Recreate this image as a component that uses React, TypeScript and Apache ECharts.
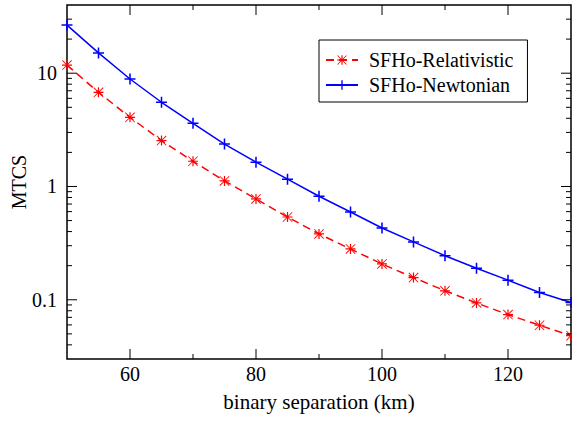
import React, { useEffect, useRef } from 'react';
import * as echarts from 'echarts';

// binary separation (km)
const separationKm = [50, 55, 60, 65, 70, 75, 80, 85, 90, 95, 100, 105, 110, 115, 120, 125, 130];
// MTCS values
const relativistic = [11.8, 6.78, 4.08, 2.54, 1.67, 1.12, 0.776, 0.538, 0.381, 0.281, 0.207, 0.157, 0.12, 0.0937, 0.074, 0.0596, 0.0482];
const newtonian = [26.6, 15.1, 8.89, 5.54, 3.61, 2.37, 1.64, 1.16, 0.82, 0.595, 0.43, 0.324, 0.245, 0.19, 0.149, 0.116, 0.0945];

const seriesNames = ['SFHo-Relativistic', 'SFHo-Newtonian'];

const xTickLabels = [60, 80, 100, 120];
const xMinorTickValues = [70, 90, 110];
const yTickValues = [0.1, 1, 10];
const yTickLabels = ['0.1', '1', '10'];
const yMinorTickValues = [
  0.04, 0.05, 0.06, 0.07, 0.08, 0.09,
  0.2, 0.3, 0.4, 0.5, 0.6, 0.7, 0.8, 0.9,
  2, 3, 4, 5, 6, 7, 8, 9,
  20, 30,
];

const FONT = 'Liberation Serif';

const PLUS_PATH = 'path://M4.3,0H5.7V4.3H10V5.7H5.7V10H4.3V5.7H0V4.3H4.3Z';
const ASTERISK_PATH =
  'path://M0,4.4H10V5.6H0Z M4.4,0H5.6V10H4.4Z M0.6,0L10,9.4L9.4,10L0,0.6Z M9.4,0L10,0.6L0.6,10L0,9.4Z';

export default function App() {
  const ref = useRef<HTMLDivElement>(null);

  useEffect(() => {
    if (!ref.current) return;
    const chart = echarts.init(ref.current, undefined, { renderer: 'svg' });

    const tickData: number[][] = [
      ...xTickLabels.map((v) => [v, 1, 0, 1]),
      ...xMinorTickValues.map((v) => [v, 1, 0, 0]),
      ...yTickValues.map((v) => [50, v, 1, 1]),
      ...yMinorTickValues.map((v) => [50, v, 1, 0]),
    ];

    const option: any = {
      animation: false,
      backgroundColor: '#ffffff',
      textStyle: { fontFamily: FONT, color: '#000' },
      grid: {
        left: 67,
        right: 1,
        top: 5,
        bottom: 63,
        show: true,
        borderColor: '#000',
        borderWidth: 1.5,
        backgroundColor: 'transparent',
        containLabel: false,
        outerBoundsMode: 'none',
      },
      legend: {
        orient: 'vertical',
        left: 319,
        top: 40,
        padding: [10, 14, 7, 6],
        itemGap: 5,
        itemWidth: 32,
        itemHeight: 12,
        borderColor: '#000',
        borderWidth: 1,
        backgroundColor: '#fff',
        data: seriesNames,
        textStyle: { fontFamily: FONT, fontSize: 20, color: '#000', padding: [0, 0, 0, 6] },
      },
      xAxis: {
        type: 'value',
        min: 50,
        max: 130,
        interval: 10,
        name: 'binary separation (km)',
        nameLocation: 'middle',
        nameGap: 32,
        nameMoveOverlap: false,
        nameTextStyle: { fontFamily: FONT, fontSize: 21, color: '#000' },
        axisLine: { show: false },
        axisTick: { show: false },
        splitLine: { show: false },
        axisLabel: {
          fontFamily: FONT,
          fontSize: 20,
          color: '#000',
          margin: 5,
          formatter: (v: number) => (xTickLabels.includes(v) ? String(v) : ''),
        },
      },
      yAxis: {
        type: 'log',
        logBase: 10,
        min: 0.03,
        max: 40,
        name: 'MTCS',
        nameLocation: 'middle',
        nameGap: 38,
        nameMoveOverlap: false,
        nameTextStyle: { fontFamily: FONT, fontSize: 20, color: '#000' },
        axisLine: { show: false },
        axisTick: { show: false },
        splitLine: { show: false },
        axisLabel: {
          fontFamily: FONT,
          fontSize: 20,
          color: '#000',
          margin: 10,
          showMinLabel: false,
          showMaxLabel: false,
          formatter: (v: number) => {
            const idx = yTickValues.findIndex((t) => Math.abs(Math.log10(v) - Math.log10(t)) < 1e-6);
            return idx >= 0 ? yTickLabels[idx] : '';
          },
        },
      },
      series: [
        {
          name: seriesNames[0],
          type: 'line',
          data: separationKm.map((x, i) => [x, relativistic[i]]),
          symbol: ASTERISK_PATH,
          symbolSize: 10,
          showAllSymbol: true,
          itemStyle: { color: '#ff0000', borderWidth: 0 },
          lineStyle: { color: '#ff0000', width: 1.5, type: [8, 5] },
          z: 3,
        },
        {
          name: seriesNames[1],
          type: 'line',
          data: separationKm.map((x, i) => [x, newtonian[i]]),
          symbol: PLUS_PATH,
          symbolSize: 11,
          showAllSymbol: true,
          itemStyle: { color: '#0000ff', borderWidth: 0 },
          lineStyle: { color: '#0000ff', width: 1.5, type: 'solid' },
          z: 3,
        },
        {
          name: 'ticks',
          type: 'custom',
          silent: true,
          z: 4,
          encode: { x: 0, y: 1 },
          data: tickData,
          renderItem: (params: any, api: any) => {
            const cs = params.coordSys;
            const isY = api.value(2) === 1;
            const len = api.value(3) === 1 ? 10 : 5;
            const style = { stroke: '#000', lineWidth: 1 };
            if (!isY) {
              const px = api.coord([api.value(0), 1])[0];
              const b = cs.y + cs.height;
              const t = cs.y;
              return {
                type: 'group',
                children: [
                  { type: 'line', shape: { x1: px, y1: b, x2: px, y2: b - len }, style },
                  { type: 'line', shape: { x1: px, y1: t, x2: px, y2: t + len }, style },
                ],
              };
            }
            const py = api.coord([50, api.value(1)])[1];
            const l = cs.x;
            const r = cs.x + cs.width;
            return {
              type: 'group',
              children: [
                { type: 'line', shape: { x1: l, y1: py, x2: l + len, y2: py }, style },
                { type: 'line', shape: { x1: r, y1: py, x2: r - len, y2: py }, style },
              ],
            };
          },
        },
      ],
    };

    chart.setOption(option);
    return () => chart.dispose();
  }, []);

  return (
    <div
      ref={ref}
      style={{ position: 'fixed', left: 0, top: 0, width: 572, height: 422, background: '#fff' }}
    />
  );
}
